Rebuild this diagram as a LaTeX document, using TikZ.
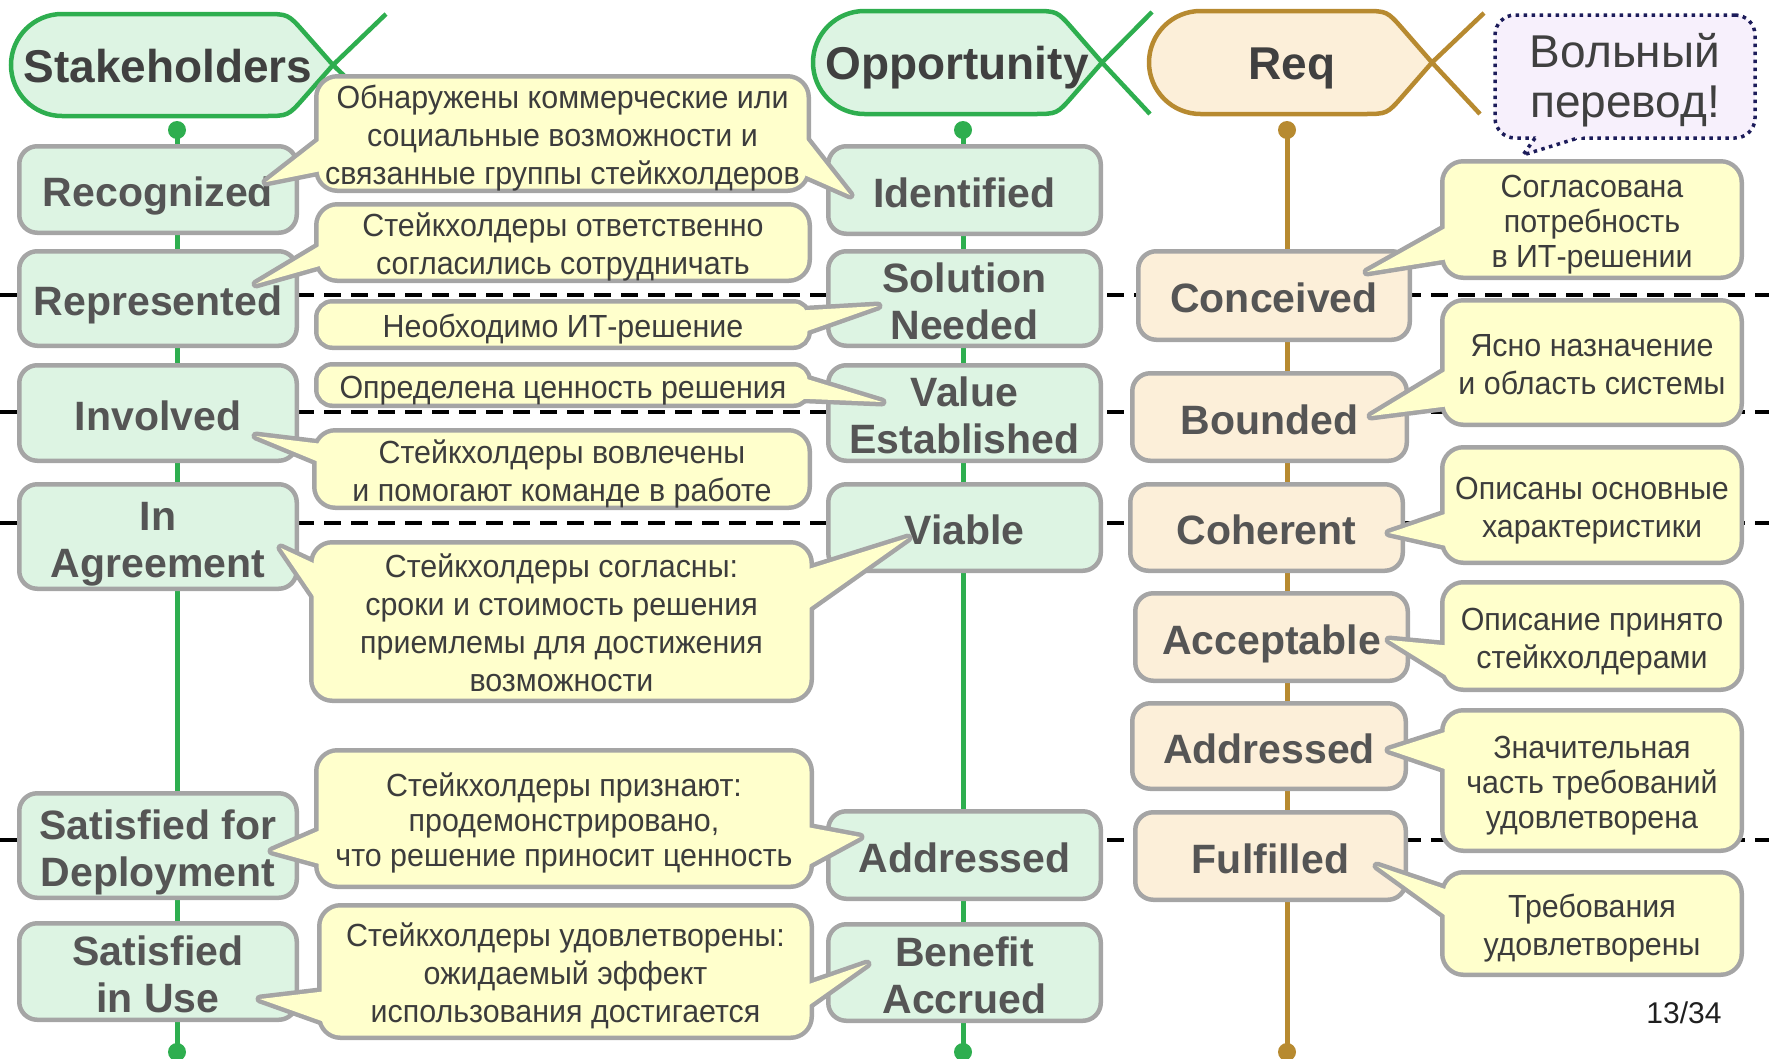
\documentclass[tikz,border=0pt]{standalone}
\usepackage{fontspec}
\setmainfont{Liberation Sans}
\newfontfamily\narrowfont[FakeStretch=0.95]{Liberation Sans}
\usetikzlibrary{calc}

\definecolor{grnline}{HTML}{2EAE4F}
\definecolor{grnfill}{HTML}{DDF4E3}
\definecolor{goldline}{HTML}{B78A30}
\definecolor{goldfill}{HTML}{FCEFD9}
\definecolor{boxgray}{HTML}{A5A5A5}
\definecolor{callfill}{HTML}{FFFFCC}
\definecolor{labelgray}{HTML}{555555}
\definecolor{hdrtext}{HTML}{404040}
\definecolor{calltext}{HTML}{3C3C3C}
\definecolor{lavfill}{HTML}{F7F0FC}
\definecolor{dotnavy}{HTML}{1C1C5A}

% one text line with fixed height/depth, so that text sits centred in its box
\newcommand\mtx[1]{\rule[-0.06em]{0pt}{0.95em}\smash{#1}}
% pointer of a callout: base points #1, #2 on the box edge, tip #3
\newcommand\wstroke[3]{\draw[wline] ($(#1)!-12pt!(#3)$) -- (#3) -- ($(#2)!-12pt!(#3)$);}
\newcommand\wfillin[3]{\fill[callfill] ($(#1)!-12pt!(#3)$) -- (#3) -- ($(#2)!-12pt!(#3)$) -- cycle;}
% state-machine header: #1 left x, #2 top y, #3 bottom y, #4 top corner x, #5 tip x, #6 style
\newcommand\hdrshape[6]{%
  \pgfmathsetmacro\hm{(#2+#3)/2}%
  \pgfmathsetmacro\hr{(#3-#2)/2}%
  \pgfmathsetmacro\hk{0.5523*\hr}%
  \path[#6] (#1+\hr,#2) -- ($(#4,#2)!24pt!(#1,#2)$)
    .. controls (#4,#2) .. ($(#4,#2)!24pt!(#5,\hm)$) -- (#5,\hm)
    -- ($(#4,#3)!24pt!(#5,\hm)$) .. controls (#4,#3) .. ($(#4,#3)!24pt!(#1,#3)$)
    -- (#1+\hr,#3) .. controls (#1+\hr-\hk,#3) and (#1,\hm+\hk) .. (#1,\hm)
    .. controls (#1,\hm-\hk) and (#1+\hr-\hk,#2) .. (#1+\hr,#2) -- cycle;}

\begin{document}
\begin{tikzpicture}[x=1pt,y=-1pt,
  every node/.style={inner sep=0pt,outer sep=0pt},
  sepline/.style={draw=black,line width=4pt,dash pattern=on 17pt off 10pt},
  lifeG/.style={draw=grnline,line width=5pt},
  lifeR/.style={draw=goldline,line width=5pt},
  hdrG/.style={draw=grnline,fill=grnfill,line width=4.5pt},
  hdrR/.style={draw=goldline,fill=goldfill,line width=4.5pt},
  armG/.style={draw=grnline,line width=4.5pt},
  armR/.style={draw=goldline,line width=4.5pt},
  hdrtxt/.style={text=hdrtext,font=\bfseries\fontsize{46}{52}\selectfont},
  stbox/.style={draw=boxgray,line width=4.5pt,rounded corners=18pt,align=center,
    text=labelgray,font=\bfseries\fontsize{41}{47}\selectfont},
  sbox/.style={stbox,fill=grnfill},
  rbox/.style={stbox,fill=goldfill},
  callbox/.style={fill=callfill,rounded corners=19pt,preaction={draw=boxgray,line width=9pt},
    align=center,text=calltext,font=\narrowfont\fontsize{32}{38}\selectfont},
  tight/.style={font=\narrowfont\fontsize{32}{35}\selectfont},
  wline/.style={draw=boxgray,line width=9pt,line join=round},
  dotline/.style={draw=dotnavy,line width=3.5pt,dash pattern=on 3.5pt off 4.5pt},
]
\useasboundingbox (0,0) rectangle (1769,1058);

% level separators
\foreach \yy [count=\i] in {295,412,523,840}{
  \coordinate (sepL\i) at (0,\yy);
  \coordinate (sepR\i) at (1769,\yy);
  \draw[sepline] (sepL\i) -- (sepR\i);
}

% lifelines
\coordinate (stkTop) at (177,130);  \coordinate (stkBot) at (177,1052);
\coordinate (oppTop) at (963,130);  \coordinate (oppBot) at (963,1052);
\coordinate (reqTop) at (1287,130); \coordinate (reqBot) at (1287,1052);
\draw[lifeG] (stkTop) -- (stkBot);
\draw[lifeG] (oppTop) -- (oppBot);
\draw[lifeR] (reqTop) -- (reqBot);
\fill[grnline] (stkTop) circle[radius=9pt] (stkBot) circle[radius=9pt];
\fill[grnline] (oppTop) circle[radius=9pt] (oppBot) circle[radius=9pt];
\fill[goldline] (reqTop) circle[radius=9pt] (reqBot) circle[radius=9pt];

% headers
\hdrshape{11}{14}{116}{288}{333}{hdrG}
\draw[armG] (333,65) -- (386,14);
\draw[armG] (333,65) -- (386,116);
\node[hdrtxt] (stk) at (168,63.5) {\mtx{Stakeholders}};

\hdrshape{813}{11}{114}{1057}{1102}{hdrG}
\draw[armG] (1102,62.5) -- (1152,12);
\draw[armG] (1102,62.5) -- (1150,114);
\node[hdrtxt] (opp) at (957,60.5) {\mtx{Opportunity}};

\hdrshape{1149}{11}{114}{1387}{1432}{hdrR}
\draw[armR] (1432,62.5) -- (1484,13);
\draw[armR] (1432,62.5) -- (1480,114);
\node[hdrtxt] (req) at (1292,60.5) {\mtx{Req}};

% Stakeholders states
\node[sbox,minimum width=277.5pt,minimum height=86.5pt] (recog) at (158,189.5) {\mtx{Recognized}};
\node[sbox,minimum width=277.5pt,minimum height=94.5pt] (repr) at (158,298.5) {\mtx{Represented}};
\node[sbox,minimum width=277.5pt,minimum height=95.5pt] (invol) at (158,413) {\mtx{Involved}};
\node[sbox,minimum width=277.5pt,minimum height=104.5pt] (agree) at (158,536.5) {\mtx{In}\\\mtx{Agreement}};
\node[sbox,minimum width=277.5pt,minimum height=104.5pt] (deploy) at (158,845.5) {\mtx{Satisfied for}\\\mtx{Deployment}};
\node[sbox,minimum width=277.5pt,minimum height=96.5pt] (inuse) at (158,971.5) {\mtx{Satisfied}\\\mtx{in Use}};

% Opportunity states
\node[sbox,minimum width=272.5pt,minimum height=87.5pt] (ident) at (964.5,190) {\mtx{Identified}};
\node[sbox,minimum width=272.5pt,minimum height=94.5pt] (solneed) at (964.5,298.5) {\mtx{Solution}\\\mtx{Needed}};
\node[sbox,minimum width=272.5pt,minimum height=95.5pt] (valest) at (964.5,413) {\mtx{Value}\\\mtx{Established}};
\node[sbox,minimum width=272.5pt,minimum height=86.5pt] (viable) at (964.5,527.5) {\mtx{Viable}};
\node[sbox,minimum width=272.5pt,minimum height=87.5pt] (oaddr) at (964.5,855) {\mtx{Addressed}};
\node[sbox,minimum width=272.5pt,minimum height=96.5pt] (benef) at (964.5,972.5) {\mtx{Benefit}\\\mtx{Accrued}};

% Requirements states
\node[rbox,minimum width=271.5pt,minimum height=88.5pt] (conc) at (1274,295.5) {\mtx{Conceived}};
\node[rbox,minimum width=274.5pt,minimum height=87.5pt] (bound) at (1269.5,417) {\mtx{Bounded}};
\node[rbox,minimum width=272.5pt,minimum height=86.5pt] (coher) at (1266.5,527.5) {\mtx{Coherent}};
\node[rbox,minimum width=272.5pt,minimum height=87.5pt] (accep) at (1271.5,637) {\mtx{Acceptable}};
\node[rbox,minimum width=273.5pt,minimum height=85.5pt] (raddr) at (1269,746) {\mtx{Addressed}};
\node[rbox,minimum width=270.5pt,minimum height=87.5pt] (fulf) at (1270.5,856) {\mtx{Fulfilled}};

% callouts, left column
\wstroke{316,143}{316,172}{266,182}
\wstroke{809,143}{809,177}{850,195}
\node[callbox,minimum width=488pt,minimum height=110pt] (a1) at (562.5,133.5)
  {\mtx{Обнаружены коммерческие или}\\\mtx{социальные возможности и}\\\mtx{связанные группы стейкхолдеров}};
\wfillin{316,143}{316,172}{266,182}
\wfillin{809,143}{809,177}{850,195}

\wstroke{316,248}{316,267}{256,284}
\node[callbox,minimum width=489pt,minimum height=72pt] (a2) at (563,242.5)
  {\mtx{Стейкхолдеры ответственно}\\\mtx{согласились сотрудничать}};
\wfillin{316,248}{316,267}{256,284}

\wstroke{810,310}{810,330}{878,306}
\node[callbox,rounded corners=14pt,minimum width=489pt,minimum height=42pt] (a3) at (563,324.5)
  {\mtx{Необходимо ИТ-решение}};
\wfillin{810,310}{810,330}{878,306}

\wstroke{810,380}{810,399}{882,402}
\node[callbox,rounded corners=14pt,minimum width=489pt,minimum height=37pt] (a4) at (563,385)
  {\mtx{Определена ценность решения}};
\wfillin{810,380}{810,399}{882,402}

\wstroke{314,443}{314,460}{256,436}
\node[callbox,minimum width=491pt,minimum height=73pt] (a5) at (562,469)
  {\mtx{Стейкхолдеры вовлечены}\\\mtx{и помогают команде в работе}};
\wfillin{314,443}{314,460}{256,436}

\wstroke{311,562}{311,592}{281,548}
\wstroke{812,568}{812,606}{908,538}
\node[callbox,minimum width=496pt,minimum height=154pt] (a6) at (561.5,621.5)
  {\mtx{Стейкхолдеры согласны:}\\\mtx{сроки и стоимость решения}\\\mtx{приемлемы для достижения}\\\mtx{возможности}};
\wfillin{311,562}{311,592}{281,548}
\wfillin{812,568}{812,606}{908,538}

\wstroke{316,832}{316,863}{272,851}
\wstroke{812,828}{812,863}{860,837}
\node[callbox,tight,minimum width=491pt,minimum height=132pt] (a7) at (564,818.5)
  {\mtx{Стейкхолдеры признают:}\\\mtx{продемонстрировано,}\\\mtx{что решение приносит ценность}};
\wfillin{316,832}{316,863}{272,851}
\wfillin{812,828}{812,863}{860,837}

\wstroke{319,992}{319,1020}{260,999}
\wstroke{812,983}{812,1003}{867,964}
\node[callbox,minimum width=488pt,minimum height=128pt] (a8) at (565.5,971.5)
  {\mtx{Стейкхолдеры удовлетворены:}\\\mtx{ожидаемый эффект}\\\mtx{использования достигается}};
\wfillin{319,992}{319,1020}{260,999}
\wfillin{812,983}{812,1003}{867,964}

% callouts, right column
\wstroke{1442,230}{1442,260}{1367,272}
\node[callbox,tight,minimum width=295pt,minimum height=112pt] (b1) at (1592,219.5)
  {\mtx{Согласована}\\\mtx{потребность}\\\mtx{в ИТ-решении}};
\wfillin{1442,230}{1442,260}{1367,272}

\wstroke{1442,373}{1442,407}{1371,416}
\node[callbox,minimum width=295pt,minimum height=120pt] (b2) at (1592,362.5)
  {\mtx{Ясно назначение}\\\mtx{и область системы}};
\wfillin{1442,373}{1442,407}{1371,416}

\wstroke{1442,515}{1442,545}{1389,533}
\node[callbox,minimum width=295pt,minimum height=111pt] (b3) at (1592,505)
  {\mtx{Описаны основные}\\\mtx{характеристики}};
\wfillin{1442,515}{1442,545}{1389,533}

\wstroke{1442,645}{1442,673}{1389,640}
\node[callbox,minimum width=295pt,minimum height=103pt] (b4) at (1592,636)
  {\mtx{Описание принято}\\\mtx{стейкхолдерами}};
\wfillin{1442,645}{1442,673}{1389,640}

\wstroke{1442,733}{1442,768}{1389,750}
\node[callbox,tight,minimum width=295pt,minimum height=136pt] (b5) at (1592,780.5)
  {\mtx{Значительная}\\\mtx{часть требований}\\\mtx{удовлетворена}};
\wfillin{1442,733}{1442,768}{1389,750}

\wstroke{1442,888}{1442,913}{1377,866}
\node[callbox,minimum width=295pt,minimum height=98pt] (b6) at (1592,923.5)
  {\mtx{Требования}\\\mtx{удовлетворены}};
\wfillin{1442,888}{1442,913}{1377,866}

% translator's note
\node[fill=lavfill,dotline,rounded corners=20pt,minimum width=260pt,minimum height=123pt] (note) at (1625,76.5) {};
\node[align=center,text=hdrtext,font=\fontsize{46}{50}\selectfont] (notetext) at (1625,73)
  {\mtx{Вольный}\\\mtx{перевод!}};
\coordinate (noteTip) at (1523,155);
\fill[lavfill] ($(noteTip)!1.6!(1535,138)$) -- (noteTip) -- ($(noteTip)!1.6!(1578,138)$) -- cycle;
\draw[dotline] (1535,138) -- (noteTip) -- (1578,138);

% page number
\node[text=black!88,font=\fontsize{30}{36}\selectfont] (pgno) at (1684,1011) {\mtx{13/34}};
\end{tikzpicture}
\end{document}
